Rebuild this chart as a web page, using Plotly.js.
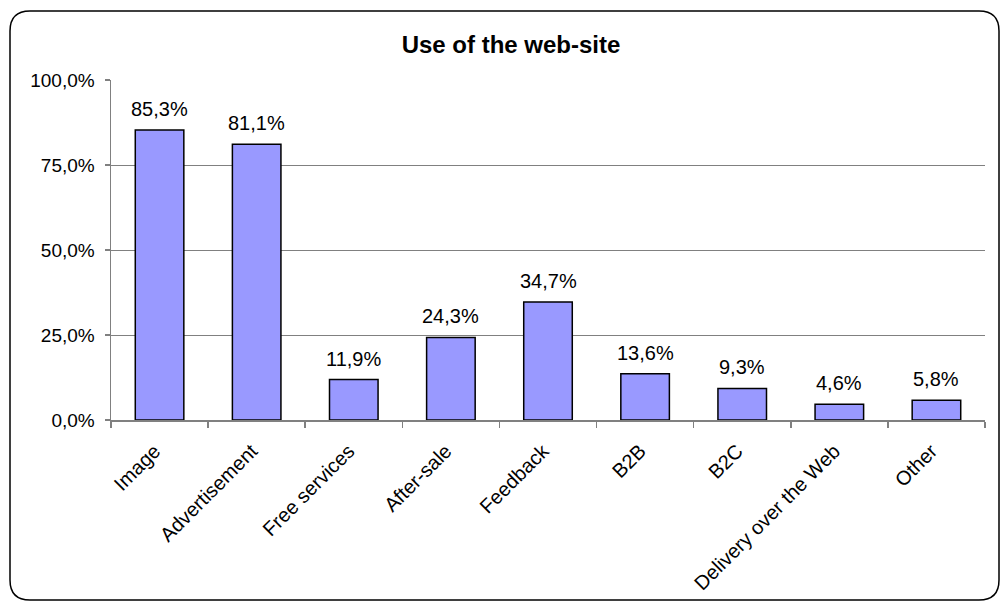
<!DOCTYPE html>
<html>
<head>
<meta charset="utf-8">
<script src="https://cdn.plot.ly/plotly-3.0.1.min.js"></script>
<style>html,body{margin:0;padding:0;background:#fff;}#chart{width:1002px;height:601px;}</style>
</head>
<body>
<div id="chart"></div>
<script>
const categories = ["Image", "Advertisement", "Free services", "After-sale", "Feedback", "B2B", "B2C", "Delivery over the Web", "Other"];
const values = [0.853, 0.811, 0.119, 0.243, 0.347, 0.136, 0.093, 0.046, 0.058];
const yTicks = [0, 0.25, 0.5, 0.75, 1.0];
const chartTitle = "Use of the web-site";

const W = 1002, H = 601;
const L = 111, R = 17, T = 80, B = 181;
const pw = W - L - R, ph = H - T - B;
const px = x => (x - L) / pw;
const py = y => (H - B - y) / ph;

// rounded border path in paper coords
const bx0 = 10, by0 = 11, bx1 = 999, by1 = 600, rad = 20;
const path = [
  `M ${px(bx0 + rad)} ${py(by0)}`,
  `L ${px(bx1 - rad)} ${py(by0)}`,
  `Q ${px(bx1)} ${py(by0)} ${px(bx1)} ${py(by0 + rad)}`,
  `L ${px(bx1)} ${py(by1 - rad)}`,
  `Q ${px(bx1)} ${py(by1)} ${px(bx1 - rad)} ${py(by1)}`,
  `L ${px(bx0 + rad)} ${py(by1)}`,
  `Q ${px(bx0)} ${py(by1)} ${px(bx0)} ${py(by1 - rad)}`,
  `L ${px(bx0)} ${py(by0 + rad)}`,
  `Q ${px(bx0)} ${py(by0)} ${px(bx0 + rad)} ${py(by0)}`,
  'Z'
].join(' ');

const font = 'Arial, "Liberation Sans", sans-serif';
const fmt = v => (v * 100).toFixed(1).replace('.', ',') + '%';

const trace = {
  type: 'bar',
  x: categories,
  y: values,
  marker: {color: '#9999FF', line: {color: '#000000', width: 1.5}},
  hoverinfo: 'x+y'
};

const labels = categories.map((c, i) => ({
  x: c, y: values[i], xref: 'x', yref: 'y',
  text: fmt(values[i]), showarrow: false,
  yanchor: 'bottom', yshift: 8,
  font: {family: font, size: 20, color: '#000'}
}));

const layout = {
  width: W, height: H,
  margin: {l: L, r: R, t: T, b: B, pad: 0},
  separators: ',.',
  paper_bgcolor: '#fff',
  plot_bgcolor: '#fff',
  showlegend: false,
  bargap: 0.5,
  title: {
    text: '<b>' + chartTitle + '</b>',
    font: {family: font, size: 24, color: '#000'},
    x: 511 / W, xref: 'container', xanchor: 'center',
    y: 1 - 45 / H, yref: 'container', yanchor: 'middle'
  },
  xaxis: {
    type: 'category',
    tickangle: -45,
    tickfont: {family: font, size: 20, color: '#000'},
    ticks: 'outside', tickson: 'boundaries', ticklen: 6, tickcolor: '#808080', tickwidth: 1.5,
    ticklabelstandoff: 10,
    ticklabelshift: -5,
    showline: true, linecolor: '#808080', linewidth: 1.5,
    showgrid: false, zeroline: false,
    fixedrange: true
  },
  yaxis: {
    range: [0, 1],
    tickvals: yTicks,
    tickformat: '.1%',
    tickfont: {family: font, size: 19, color: '#000'},
    ticks: 'outside', ticklen: 5, tickcolor: '#808080', tickwidth: 1.5,
    ticklabelstandoff: 6,
    showline: true, linecolor: '#808080', linewidth: 1.5,
    showgrid: true, gridcolor: '#808080', gridwidth: 1,
    zeroline: false,
    fixedrange: true
  },
  annotations: labels,
  shapes: [{
    type: 'path', xref: 'paper', yref: 'paper', path: path,
    line: {color: '#000', width: 1.5}, fillcolor: 'rgba(0,0,0,0)', layer: 'above'
  }]
};

Plotly.newPlot('chart', [trace], layout, {displayModeBar: false, staticPlot: true});
</script>
</body>
</html>
